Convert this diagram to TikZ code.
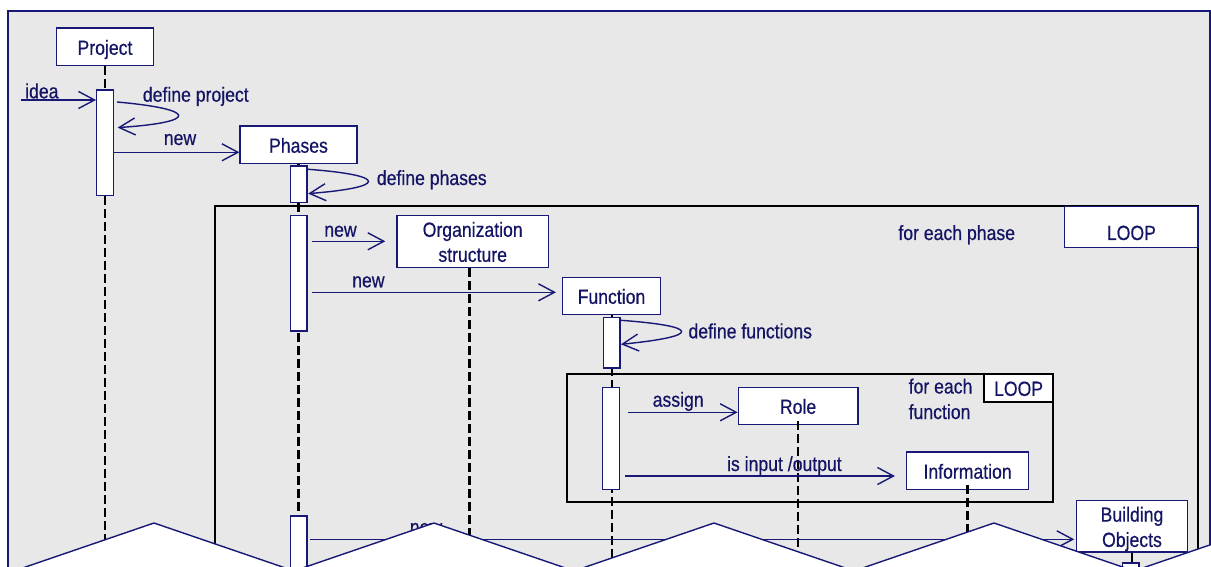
\documentclass[tikz,border=0pt]{standalone}
\usepackage{fontspec}
\setmainfont{Liberation Sans}[FakeStretch=0.86,UprightFeatures={FakeBold=0.5}]
\usetikzlibrary{arrows.meta,calc}
\definecolor{ink}{RGB}{24,24,118}
\definecolor{inktext}{RGB}{20,20,100}
\definecolor{panel}{RGB}{232,232,232}
% strut used to give every line of a two-line label the same height and depth
\newcommand\lnstrut{\rule[-4pt]{0pt}{24pt}}
\tikzset{
  txt/.style={text=inktext, font=\fontsize{20.5}{25}\selectfont, inner sep=0pt},
  obj/.style={txt, draw=ink, line width=1.5pt, fill=white, text height=20pt, text depth=4pt},
  objm/.style={txt, draw=ink, line width=1.5pt, fill=white, align=center},
  act/.style={draw=ink, line width=1.4pt, fill=white, minimum width=16.6pt, inner sep=0pt},
  life/.style={line width=2.6pt, dash pattern=on 8.5pt off 4.5pt},
  thinlife/.style={line width=2pt, dash pattern=on 9pt off 4pt},
  msg/.style={draw=ink, line width=1.4pt, -{Straight Barb[length=16pt,width=17pt]}},
  loopframe/.style={draw=black, line width=2pt},
  tear/.style={draw=ink, line width=1.4pt, fill=white},
}
\begin{document}
\begin{tikzpicture}[x=1pt,y=-1pt]
\useasboundingbox (0,0) rectangle (1211,567);
\clip (0,0) rectangle (1211,567);

% outer panel
\filldraw[fill=panel, draw=ink, line width=2pt] (8.4,11) rectangle (1210,620);

% combined fragments
\draw[loopframe] (215,206) rectangle (1198,620);
\draw[loopframe] (567,374) rectangle (1053,502);

% participants
\node[obj, minimum width=97pt, minimum height=37.7pt] (project) at (105,46.8) {Project};
\node[obj, minimum width=116.7pt, minimum height=37.3pt] (phases) at (298.5,144.7) {Phases};
\node[objm, minimum width=151.3pt, minimum height=52pt] (org) at (472.7,241.3) {\lnstrut Organization\\\lnstrut structure};
\node[obj, minimum width=97.6pt, minimum height=37pt] (function) at (611.5,295.8) {Function};
\node[obj, minimum width=119.4pt, minimum height=37pt] (role) at (798.1,405.8) {Role};
\node[obj, minimum width=121.8pt, minimum height=37.3pt] (info) at (967.6,470.7) {Information};
\node[objm, font=\fontsize{20.5}{22}\selectfont, minimum width=110.8pt, minimum height=51.4pt] (bobj) at (1132,526.4) {\lnstrut Building\\\lnstrut Objects};

% lifelines
\coordinate (floor) at (0,600);
\draw[life] (project.south) -- (project.south |- floor);
\draw[life] (phases.south) -- (phases.south |- floor);
\draw[life] ($(org.south)+(-3,0)$) -- ($(org.south |- floor)+(-3,0)$);
\draw[thinlife] (function.south) -- (function.south |- floor);
\draw[thinlife] ($(role.south)+(0,-4)$) -- (role.south |- floor);
\draw[life] ($(info.south)+(0,-5)$) -- (info.south |- floor);
\draw[line width=2pt] (bobj.south) -- (bobj.south |- floor);

% activations
\node[act, minimum height=105.7pt] (a1) at (105,142.85) {};
\node[act, minimum height=36.7pt] (a2) at (298.5,184.35) {};
\node[act, minimum height=115.7pt] (a3) at (298.5,273.15) {};
\node[act, minimum height=64pt] (a4) at (298.5,548) {};
\node[act, minimum height=50.3pt] (a5) at (611.5,342.85) {};
\node[act, minimum height=102pt] (a6) at (611,438.3) {};
\node[act, minimum height=37pt] (a7) at (1130.5,581.5) {};

% loop tabs
\node[txt, draw=ink, line width=1.3pt, fill=white, minimum width=133.2pt, minimum height=41pt,
      text height=29.6pt, text depth=4pt] (tabphase) at (1131.4,227.2) {LOOP};
\node[obj, draw=black, line width=2pt, minimum width=68.8pt, minimum height=27.7pt] (tabfunc) at (1018.6,387.85) {LOOP};
\node[txt, anchor=base west] (guardphase) at (898.2,240) {for each phase};
\node[txt, align=left, anchor=north west, font=\fontsize{20.5}{25.5}\selectfont] (guardfunc) at (908.5,373.3) {\lnstrut for each\\\lnstrut function};

% messages
\coordinate (ideasrc) at (20.7,100);
\draw[msg] (ideasrc) -- (a1.west |- ideasrc);
\node[txt, anchor=base west] (lidea) at (25,98.3) {idea};

\draw[msg] ($(a1.north east)+(3.1,12.7)$) .. controls +(81.6,7.3) and +(81,-5.3) .. ($(a1.north east)+(3.7,38.3)$);
\node[txt, anchor=base west] (ldefproject) at (142.7,101.7) {define project};

\draw[msg] (a1.east |- 0,152.3) -- (phases.west |- 0,152.3);
\node[txt, anchor=base] (lnew1) at (180,145) {new};

\draw[msg] ($(a2.north east)+(0.7,4)$) .. controls +(80,6) and +(80,-6.3) .. ($(a2.north east)+(0.7,28.3)$);
\node[txt, anchor=base west] (ldefphases) at (376.7,185) {define phases};

\draw[msg] ($(a3.east |- org.west)+(4,0)$) -- ($(org.west)+(-11,0)$);
\node[txt, anchor=base] (lnew2) at (340.5,236.7) {new};

\draw[msg] ($(a3.east |- function.west)+(4,-3.5)$) -- ($(function.west)+(-6,-3.5)$);
\node[txt, anchor=base] (lnew3) at (368.4,287.3) {new};

\draw[msg] ($(a5.north east)+(0.5,3.3)$) .. controls +(80.4,6) and +(80.4,-8) .. ($(a5.north east)+(0.5,27.3)$);
\node[txt, anchor=base west] (ldeffunc) at (688.3,338.3) {define functions};

\draw[msg] ($(a6.east |- role.west)+(8,6.5)$) -- ($(role.west)+(0,6.5)$);
\node[txt, anchor=base] (lassign) at (678.2,406.7) {assign};

\draw[msg] ($(a6.east |- info.west)+(5,5.3)$) -- ($(info.west)+(-11,5.3)$);
\node[txt, anchor=base] (lio) at (784.4,471) {is input /output};

\draw[msg] ($(a4.east |- bobj.west)+(2.4,12.9)$) -- ($(bobj.west)+(-1.6,12.9)$);
\node[txt, anchor=base] (lnew4) at (426,534) {new};

% torn lower edge
\foreach \p in {154,434,714,994,1274}
  \filldraw[tear] (\p-166.5,580) -- (\p,523) -- (\p+166.5,580) -- cycle;
\end{tikzpicture}
\end{document}
